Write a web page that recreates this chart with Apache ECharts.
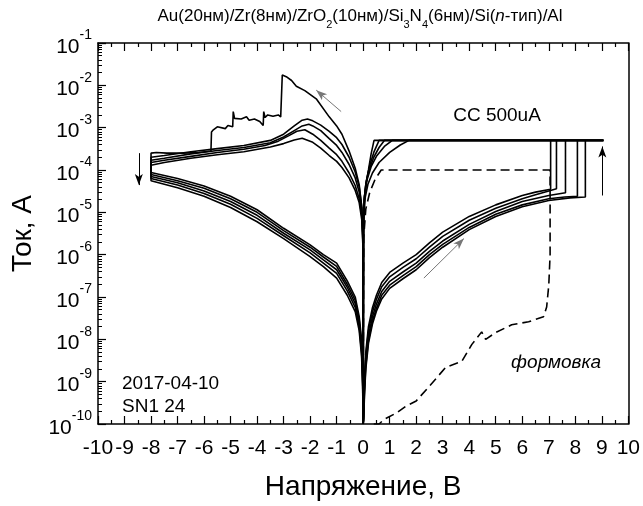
<!DOCTYPE html>
<html>
<head>
<meta charset="utf-8">
<script src="https://cdn.jsdelivr.net/npm/echarts@6/dist/echarts.min.js"></script>
<style>
html,body{margin:0;padding:0;background:#fff;}
#chart{width:643px;height:506px;}
</style>
</head>
<body>
<div id="chart"></div>
<script>
// ---------- data (voltage V, current A) ----------
const compliance = 5e-4;
const vMax = 9.06;
const xTicks = [-10,-9,-8,-7,-6,-5,-4,-3,-2,-1,0,1,2,3,4,5,6,7,8,9,10];

// positive sweep, high-resistance state up to SET
const hrsPos1 = [[0,1e-10],[0.02,2.5e-10],[0.05,1.3e-9],[0.1,5e-9],[0.2,2e-8],[0.35,5.6e-8],[0.5,1.1e-7],[0.7,2.2e-7],[1,3.8e-7],[1.5,6.3e-7],[2,1e-6],[2.5,1.9e-6],[3,3.4e-6],[4,8e-6],[5,1.5e-5],[6,2.5e-5],[6.5,3e-5],[7.07,3.5e-5]];
const hrsPos2 = [[0,1e-10],[0.02,2e-10],[0.05,1e-9],[0.1,4e-9],[0.2,1.6e-8],[0.35,4.4e-8],[0.5,8.8e-8],[0.7,1.75e-7],[1,3e-7],[1.5,5e-7],[2,8e-7],[2.5,1.5e-6],[3,2.7e-6],[4,6.5e-6],[5,1.25e-5],[6,2.1e-5],[6.5,2.6e-5],[7,3.2e-5],[7.29,3.6e-5]];
const hrsPos3 = [[0,1e-10],[0.02,1.7e-10],[0.05,7.5e-10],[0.1,3e-9],[0.2,1.2e-8],[0.35,3.4e-8],[0.5,6.8e-8],[0.7,1.35e-7],[1,2.35e-7],[1.5,3.9e-7],[2,6.3e-7],[2.5,1.2e-6],[3,2.1e-6],[4,5.2e-6],[5,1.05e-5],[6,1.8e-5],[7,2.5e-5],[7.63,2.9e-5]];
const hrsPos4 = [[0,1e-10],[0.02,1.4e-10],[0.05,6e-10],[0.1,2.4e-9],[0.2,9.5e-9],[0.35,2.7e-8],[0.5,5.4e-8],[0.7,1.1e-7],[1,1.9e-7],[1.5,3.2e-7],[2,5.2e-7],[2.5,1e-6],[3,1.75e-6],[4,4.4e-6],[5,9e-6],[6,1.5e-5],[7,2.1e-5],[7.6,2.3e-5],[8.08,2.4e-5]];
const hrsPos5 = [[0,1e-10],[0.02,1.2e-10],[0.05,5e-10],[0.1,2e-9],[0.2,8e-9],[0.35,2.3e-8],[0.5,4.6e-8],[0.7,9e-8],[1,1.6e-7],[1.5,2.7e-7],[2,4.4e-7],[2.5,8.5e-7],[3,1.5e-6],[4,3.9e-6],[5,8e-6],[6,1.35e-5],[7,1.9e-5],[7.8,2.2e-5],[8.38,2.3e-5]];

// return from compliance, low-resistance state, positive side
const lrsPos1 = [[0.41,5e-4],[0.3,2.4e-4],[0.2,1e-4],[0.1,4.5e-5],[0.04,2e-5],[0.01,5e-6],[0,1e-10]];
const lrsPos2 = [[0.6,5e-4],[0.4,2.6e-4],[0.25,1.3e-4],[0.12,5.5e-5],[0.05,2.4e-5],[0.015,7e-6],[0,1e-10]];
const lrsPos3 = [[0.8,5e-4],[0.6,3.4e-4],[0.4,2e-4],[0.2,9e-5],[0.1,4.6e-5],[0.04,2e-5],[0.01,5.5e-6],[0,1e-10]];
const lrsPos4 = [[1.1,5e-4],[0.8,3.6e-4],[0.5,2.1e-4],[0.3,1.2e-4],[0.15,6e-5],[0.06,2.6e-5],[0.02,9e-6],[0,1e-10]];
const lrsPos5 = [[1.73,5e-4],[1.4,3.9e-4],[1,2.6e-4],[0.6,1.5e-4],[0.35,8.5e-5],[0.18,4.6e-5],[0.08,2.3e-5],[0.03,9e-6],[0.008,2.5e-6],[0,1e-10]];

// negative sweep, low-resistance state and RESET
const lrsNeg1 = [[0,1e-10],[-0.01,3e-6],[-0.05,1.3e-5],[-0.15,4.5e-5],[-0.3,1.1e-4],[-0.53,2.8e-4],[-0.8,7e-4],[-1,1.1e-3],[-1.28,1.8e-3],[-1.77,4.8e-3],[-2.2,7.5e-3],[-2.52,9.5e-3],[-2.7,1.3e-2],[-2.9,1.6e-2],[-3.05,1.75e-2],[-3.1,1.7e-2],
  [-3.11,1.8e-3],[-3.2,2e-3],[-3.4,1.86e-3],[-3.6,2e-3],[-3.7,1.74e-3],[-3.75,2.4e-3],[-3.77,1.12e-3],[-3.9,1.4e-3],[-4.1,1.6e-3],[-4.3,1.5e-3],[-4.4,1.8e-3],[-4.6,1.6e-3],[-4.85,1.66e-3],[-4.9,2.4e-3],[-4.92,1.05e-3],[-5.1,1.12e-3],[-5.2,9.5e-4],[-5.5,1.05e-3],[-5.65,8.9e-4],[-5.72,7.9e-4],[-5.74,2.8e-4],[-6.2,2.6e-4],[-6.8,2.5e-4],[-7.4,2.5e-4],[-7.8,2.6e-4],[-8,2.5e-4]];
const lrsNeg2 = [[0,1e-10],[-0.01,3e-6],[-0.05,1.3e-5],[-0.15,4e-5],[-0.3,9e-5],[-0.53,2e-4],[-0.8,4e-4],[-1,5.8e-4],[-1.28,8.2e-4],[-1.6,1.15e-3],[-1.9,1.45e-3],[-2.1,1.6e-3],[-2.3,1.5e-3],[-2.6,1.1e-3],[-3,7e-4],[-3.5,5e-4],[-4.5,3.8e-4],[-5.5,3.2e-4],[-6.5,2.7e-4],[-7.5,2.2e-4],[-8,2e-4]];
const lrsNeg3 = [[0,1e-10],[-0.01,2.5e-6],[-0.05,1.1e-5],[-0.15,3e-5],[-0.3,6.5e-5],[-0.53,1.35e-4],[-0.8,2.6e-4],[-1,3.8e-4],[-1.28,5.5e-4],[-1.6,8.5e-4],[-1.9,1.1e-3],[-2.05,1.2e-3],[-2.3,1.1e-3],[-2.6,8.5e-4],[-3,6e-4],[-3.5,4.4e-4],[-4.5,3.4e-4],[-5.5,2.9e-4],[-6.5,2.4e-4],[-7.5,1.9e-4],[-8,1.7e-4]];
const lrsNeg4 = [[0,1e-10],[-0.01,2e-6],[-0.05,8e-6],[-0.15,2.1e-5],[-0.3,4.3e-5],[-0.53,8.5e-5],[-0.8,1.6e-4],[-1,2.3e-4],[-1.28,3.3e-4],[-1.6,5e-4],[-1.9,7e-4],[-2.2,8.9e-4],[-2.5,8.2e-4],[-2.8,6.5e-4],[-3.2,4.8e-4],[-3.7,3.8e-4],[-4.5,3.1e-4],[-5.5,2.6e-4],[-6.5,2.1e-4],[-7.5,1.7e-4],[-8,1.5e-4]];
const lrsNeg5 = [[0,1e-10],[-0.01,1.6e-6],[-0.05,6.5e-6],[-0.15,1.7e-5],[-0.3,3.3e-5],[-0.53,6.5e-5],[-0.8,1.15e-4],[-1,1.6e-4],[-1.28,2.2e-4],[-1.6,3.3e-4],[-1.9,4.5e-4],[-2.3,5.6e-4],[-2.6,5.1e-4],[-3,4.2e-4],[-3.5,3.5e-4],[-4.5,2.7e-4],[-5.5,2.3e-4],[-6.5,1.9e-4],[-7.5,1.5e-4],[-8,1.3e-4]];

// negative return, high-resistance state
const hrsNeg1 = [[-8,8.7e-5],[-7,6.3e-5],[-6,4.2e-5],[-5,2.4e-5],[-4,1.15e-5],[-3,4.2e-6],[-2,1.7e-6],[-1.5,1e-6],[-1,6.3e-7],[-0.6,2.4e-7],[-0.3,1e-7],[-0.15,3.5e-8],[-0.06,1e-8],[-0.02,2e-9],[0,1e-10]];
const hrsNeg2 = [[-8,7.8e-5],[-7,5.6e-5],[-6,3.7e-5],[-5,2.1e-5],[-4,1e-5],[-3,3.7e-6],[-2,1.5e-6],[-1.5,8.8e-7],[-1,5.3e-7],[-0.6,2e-7],[-0.3,8.4e-8],[-0.15,2.9e-8],[-0.06,8e-9],[-0.02,1.6e-9],[0,1e-10]];
const hrsNeg3 = [[-8,7e-5],[-7,5e-5],[-6,3.2e-5],[-5,1.8e-5],[-4,8.5e-6],[-3,3.2e-6],[-2,1.3e-6],[-1.5,7.5e-7],[-1,4.4e-7],[-0.6,1.7e-7],[-0.3,7e-8],[-0.15,2.4e-8],[-0.06,6.5e-9],[-0.02,1.3e-9],[0,1e-10]];
const hrsNeg4 = [[-8,6.3e-5],[-7,4.4e-5],[-6,2.8e-5],[-5,1.55e-5],[-4,7.2e-6],[-3,2.8e-6],[-2,1.1e-6],[-1.5,6.3e-7],[-1,3.6e-7],[-0.6,1.4e-7],[-0.3,5.7e-8],[-0.15,2e-8],[-0.06,5e-9],[-0.02,1e-9],[0,1e-10]];
const hrsNeg5 = [[-8,5.6e-5],[-7,3.8e-5],[-6,2.4e-5],[-5,1.3e-5],[-4,6e-6],[-3,2.4e-6],[-2,9e-7],[-1.5,5.2e-7],[-1,2.8e-7],[-0.6,1.1e-7],[-0.3,4.5e-8],[-0.15,1.6e-8],[-0.06,4e-9],[-0.02,8e-10],[0,1e-10]];

// electroforming sweep (dashed)
const forming = [[0.4,1e-10],[0.6,1e-10],[0.8,1.3e-10],[1.24,1.8e-10],[1.6,2.6e-10],[2,3.5e-10],[2.48,7.6e-10],[3.12,2.2e-9],[3.72,3e-9],[4.1,7.6e-9],[4.47,1.5e-8],[4.62,1e-8],[5,1.45e-8],[5.6,2.2e-8],[6.24,2.6e-8],[6.8,3.4e-8],[6.92,5.8e-8],[7,1.9e-7],[7.05,1e-6],[7.05,1e-4],[0.68,1e-4],[0.45,6e-5],[0.25,3e-5],[0.1,1.2e-5],[0.02,2.5e-6],[0,1e-10]];

// ---------- build cycles ----------
function cycle(hp, lp, ln, hn) {
  const setPt = hp[hp.length - 1];
  return hp.concat([[setPt[0], compliance], [vMax, compliance]], lp, ln, hn);
}
const cycles = [
  cycle(hrsPos1, lrsPos1, lrsNeg1, hrsNeg1),
  cycle(hrsPos2, lrsPos2, lrsNeg2, hrsNeg2),
  cycle(hrsPos3, lrsPos3, lrsNeg3, hrsNeg3),
  cycle(hrsPos4, lrsPos4, lrsNeg4, hrsNeg4),
  cycle(hrsPos5, lrsPos5, lrsNeg5, hrsNeg5)
];

const FONT = '"Liberation Sans", Arial, sans-serif';
const series = cycles.map(function (d) {
  return {
    type: 'line', data: d, showSymbol: false, symbol: 'none', silent: true,
    lineStyle: {color: '#000', width: 1.6}, z: 3
  };
});
series.push({
  type: 'line', data: forming, showSymbol: false, symbol: 'none', silent: true,
  lineStyle: {color: '#000', width: 1.6, type: [9, 5]}, z: 3
});
// arrows
series.push({
  type: 'line', data: [], silent: true,
  markLine: {
    silent: true, animation: false, symbol: ['none', 'arrow'], symbolSize: [6, 11],
    label: {show: false},
    data: [
      [{coord: [-0.83, 2.4e-3], lineStyle: {color: '#777', width: 1, type: 'solid'}, itemStyle: {color: '#777'}},
       {coord: [-1.77, 7.7e-3]}],
      [{coord: [2.29, 2.8e-7], lineStyle: {color: '#777', width: 1, type: 'solid'}, itemStyle: {color: '#777'}},
       {coord: [3.8, 2.4e-6]}],
      [{coord: [-8.46, 2.5e-4], lineStyle: {color: '#000', width: 1, type: 'solid'}, itemStyle: {color: '#000'}},
       {coord: [-8.46, 4.4e-5]}],
      [{coord: [9.02, 2.5e-5], lineStyle: {color: '#000', width: 1, type: 'solid'}, itemStyle: {color: '#000'}},
       {coord: [9.02, 3.6e-4]}]
    ]
  }
});

const axisLineStyle = {color: '#000', width: 1.5};
const chart = echarts.init(document.getElementById('chart'), null, {renderer: 'canvas'});
chart.setOption({
  animation: false,
  backgroundColor: '#fff',
  grid: {left: 98, right: 13, top: 43, bottom: 75, containLabel: false},
  xAxis: [{
    type: 'value', min: -10, max: 10, interval: 1, position: 'bottom',
    axisLine: {show: true, onZero: false, lineStyle: axisLineStyle},
    axisTick: {show: true, inside: true, length: 8, lineStyle: {color: '#000', width: 1.2}},
    minorTick: {show: true, splitNumber: 2, length: 4, lineStyle: {color: '#000', width: 1.2}},
    splitLine: {show: false},
    axisLabel: {fontSize: 21, color: '#000', fontFamily: FONT, margin: 14,
      formatter: function (v) { return xTicks.indexOf(v) >= 0 ? String(v) : ''; }},
    name: 'Напряжение, В', nameLocation: 'middle', nameGap: 49,
    nameTextStyle: {fontSize: 28, color: '#000', fontFamily: FONT}
  }, {
    type: 'value', min: -10, max: 10, interval: 1, position: 'top',
    axisLine: {show: true, onZero: false, lineStyle: axisLineStyle},
    axisTick: {show: true, inside: true, length: 8, lineStyle: {color: '#000', width: 1.2}},
    minorTick: {show: true, splitNumber: 2, length: 4, lineStyle: {color: '#000', width: 1.2}},
    splitLine: {show: false}, axisLabel: {show: false}
  }],
  yAxis: [{
    type: 'log', logBase: 10, min: 1e-10, max: 1e-1, position: 'left',
    axisLine: {show: true, onZero: false, lineStyle: axisLineStyle},
    axisTick: {show: true, inside: true, length: 8, lineStyle: {color: '#000', width: 1.2}},
    minorTick: {show: true, splitNumber: 9, length: 4, lineStyle: {color: '#000', width: 1}},
    splitLine: {show: false},
    axisLabel: {
      margin: 6, color: '#000',
      formatter: function (v) {
        const e = Math.round(Math.log10(v));
        return '{b|10}{s|' + e + '}';
      },
      rich: {
        b: {fontSize: 21, fontFamily: FONT, color: '#000', lineHeight: 29, verticalAlign: 'bottom'},
        s: {fontSize: 14, fontFamily: FONT, color: '#000', lineHeight: 14, verticalAlign: 'top'}
      }
    },
    name: 'Ток, А', nameLocation: 'middle', nameGap: 54, nameRotate: 90,
    nameTextStyle: {fontSize: 28, color: '#000', fontFamily: FONT}
  }, {
    type: 'log', logBase: 10, min: 1e-10, max: 1e-1, position: 'right',
    axisLine: {show: true, onZero: false, lineStyle: axisLineStyle},
    axisTick: {show: false}, axisLabel: {show: false}, splitLine: {show: false}
  }],
  series: series,
  graphic: [
    {type: 'text', x: 360, y: 19, silent: true, style: {
      text: '{a|Au(20нм)/Zr(8нм)/ZrO}{sub|2}{a|(10нм)/Si}{sub|3}{a|N}{sub|4}{a|(6нм)/Si(}{i|n}{a|-тип)/Al}',
      align: 'center', verticalAlign: 'middle',
      rich: {
        a: {fontSize: 17, fontFamily: FONT, fill: '#000', lineHeight: 22, verticalAlign: 'top'},
        i: {fontSize: 17, fontFamily: FONT, fill: '#000', fontStyle: 'italic', lineHeight: 22, verticalAlign: 'top'},
        sub: {fontSize: 11, fontFamily: FONT, fill: '#000', lineHeight: 11, verticalAlign: 'bottom'}
      }
    }},
    {type: 'text', x: 497, y: 116, silent: true, style: {text: 'CC 500uA', fontSize: 19, fontFamily: FONT, fill: '#000', align: 'center', verticalAlign: 'middle'}},
    {type: 'text', x: 556, y: 363, silent: true, style: {text: 'формовка', fontSize: 19, fontStyle: 'italic', fontFamily: FONT, fill: '#000', align: 'center', verticalAlign: 'middle'}},
    {type: 'text', x: 122, y: 384, silent: true, style: {text: '2017-04-10', fontSize: 19, fontFamily: FONT, fill: '#000', align: 'left', verticalAlign: 'middle'}},
    {type: 'text', x: 122, y: 407, silent: true, style: {text: 'SN1 24', fontSize: 19, fontFamily: FONT, fill: '#000', align: 'left', verticalAlign: 'middle'}}
  ]
});
</script>
</body>
</html>
